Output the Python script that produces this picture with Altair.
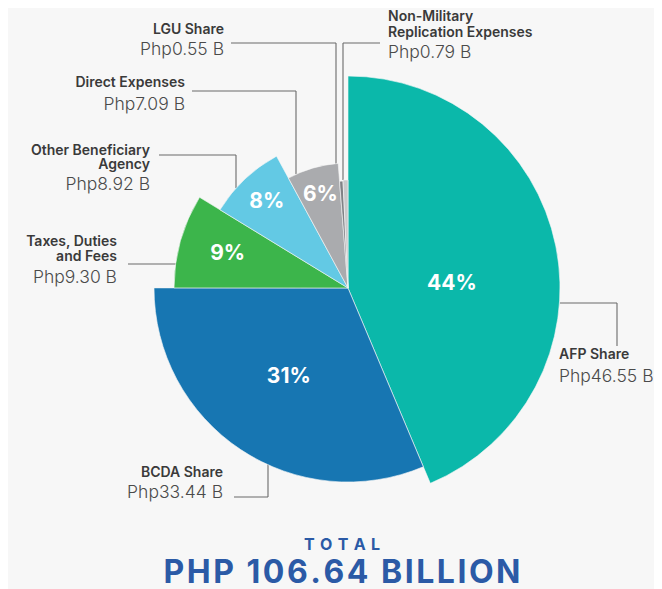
import altair as alt
import pandas as pd

# ---- data ----
categories = ["AFP Share", "BCDA Share", "Taxes, Duties\nand Fees", "Other Beneficiary\nAgency",
              "Direct Expenses", "LGU Share", "Non-Military\nReplication Expenses"]
values = [46.55, 33.44, 9.30, 8.92, 7.09, 0.55, 0.79]
pct_labels = ["44%", "31%", "9%", "8%", "6%", "", ""]
total_title = "TOTAL"
total_value = "PHP 106.64 BILLION"

# ---- styles ----
colors = ["#0bb8aa", "#1776b2", "#3cb54b", "#63c9e4", "#aaabae", "#808286", "#c8c9cb"]
arc_radius = [212, 194, 174, 150, 125, 107, 108]      # outer radius per slice (px)
text_radius = [104, 107, 125, 118, 97, 0, 0]          # radius of percent labels (px)
FONT = "Inter"
BG = "#f7f7f7"
NAVY = "#2b5aa6"
M = 8  # page margin -> plot coords
CX, CY = 348 - M, 288 - M

df = pd.DataFrame({"category": categories, "value": values, "pct": pct_labels,
                   "order": list(range(len(values)))})

pairs = sorted(zip(values, arc_radius, text_radius))
dom = [0] + [p[0] for p in pairs]
arc_range = [0] + [p[1] for p in pairs]
txt_range = [0] + [p[2] for p in pairs]

base = alt.Chart(df)

arcs = base.mark_arc(stroke=BG, strokeWidth=0.6).encode(
    theta=alt.Theta("value:Q", stack=True),
    radius=alt.Radius("value:Q", scale=alt.Scale(type="linear", domain=dom, range=arc_range,
                                                 zero=False, nice=False)),
    radius2=alt.value(0),
    color=alt.Color("category:N", scale=alt.Scale(domain=categories, range=colors), legend=None),
    order=alt.Order("order:Q"),
    x=alt.value(CX), y=alt.value(CY),
)


def pct_layer(expr, theta_offset):
    return base.transform_calculate(t=expr).mark_text(
        font=FONT, fontSize=21, fontWeight="bold", color="white",
        baseline="middle", align="center", thetaOffset=theta_offset).encode(
        theta=alt.Theta("value:Q", stack=True),
        radius=alt.Radius("value:Q", scale=alt.Scale(type="linear", domain=dom, range=txt_range,
                                                     zero=False, nice=False)),
        text="t:N",
        order=alt.Order("order:Q"),
        x=alt.value(CX), y=alt.value(CY),
    )


pcts_main = pct_layer("datum.order == 0 ? datum.pct : ''", 0.16)
pcts_rest = pct_layer("datum.order != 0 ? datum.pct : ''", 0)

one = pd.DataFrame({"a": [0]})

# leader lines (page coords)
segments = [
    (231, 43, 336, 43), (336, 43, 336, 182),      # LGU
    (343, 43, 380, 43), (343, 43, 343, 180),      # Non-Military
    (192, 91, 296, 91), (296, 91, 296, 174),      # Direct
    (159, 155, 236, 155), (236, 155, 236, 188),   # Other Beneficiary
    (128, 264, 176, 264),                         # Taxes
    (234, 497, 268, 497), (268, 497, 268, 464),   # BCDA
    (560, 303, 617, 303), (617, 303, 617, 346),   # AFP
]
rules = [
    alt.Chart(one).mark_rule(color="#6b6b6b", strokeWidth=1.1).encode(
        x=alt.value(x1 - M), y=alt.value(y1 - M), x2=alt.value(x2 - M), y2=alt.value(y2 - M))
    for (x1, y1, x2, y2) in segments
]

# label placement (page coords): x, align, y of name lines, y of value line
placement = [
    (559, "left", [355], 377),
    (223, "right", [473], 493),
    (117, "right", [242, 257], 278),
    (150, "right", [151, 165], 185),
    (185, "right", [83], 105),
    (224, "right", [30], 50),
    (388, "left", [17, 33], 53),
]

labels = []
for cat, val, (lx, al, name_ys, vy) in zip(categories, values, placement):
    for line, ny in zip(cat.split("\n"), name_ys):
        labels.append(alt.Chart(one).mark_text(font=FONT, fontSize=14, fontWeight=600, color="#3a3a3a",
                                               align=al, baseline="middle").encode(
            x=alt.value(lx - M), y=alt.value(ny - M), text=alt.value(line)))
    labels.append(alt.Chart(one).mark_text(font=FONT, fontSize=17.5, fontWeight=300, color="#4a4a4a",
                                           align=al, baseline="middle").encode(
        x=alt.value(lx - M), y=alt.value(vy - M), text=alt.value(f"Php{val:.2f} B")))

spaced_title = "\u2004".join(total_title)
spaced_value = "\u200a".join(total_value)
labels.append(alt.Chart(one).mark_text(font=FONT, fontSize=16, fontWeight="bold", color=NAVY,
                                       align="center", baseline="middle").encode(
    x=alt.value(342 - M), y=alt.value(545 - M), text=alt.value(spaced_title)))
labels.append(alt.Chart(one).mark_text(font=FONT, fontSize=32, fontWeight="bold", color=NAVY,
                                       align="center", baseline="middle").encode(
    x=alt.value(342 - M), y=alt.value(573 - M), text=alt.value(spaced_value)))

chart = alt.layer(*rules, arcs, pcts_main, pcts_rest, *labels).resolve_scale(radius="independent").properties(
    width=646, height=581, autosize=alt.AutoSizeParams(type="none"), padding=0, background=BG
).configure_view(stroke=None)

chart.save("out.html", embed_options={"renderer": "svg", "actions": False})
